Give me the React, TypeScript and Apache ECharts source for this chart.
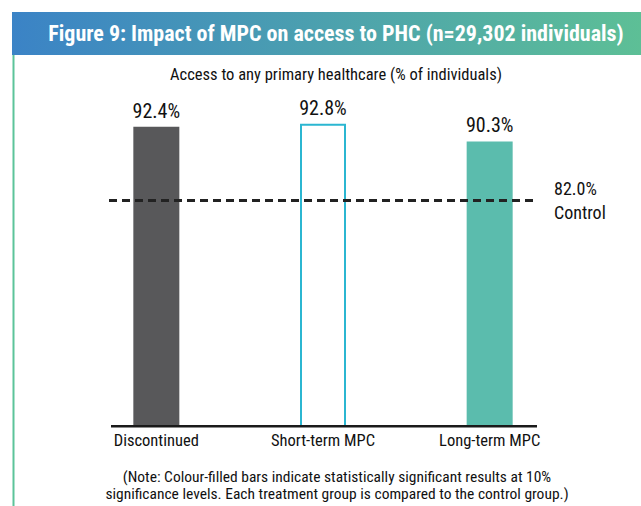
import React, { useEffect, useRef } from "react";
import * as echarts from "echarts";

const categories = ["Discontinued", "Short-term MPC", "Long-term MPC"];
const accessValues = [92.4, 92.8, 90.3];
const filled = [true, false, true];
const barColors = ["#58585a", "#2bb6d1", "#5bbcad"];
const controlValue = 82.0;
const controlLabel = "Control";
const titleText = "Figure 9: Impact of MPC on access to PHC (n=29,302 individuals)";
const subtitleText = "Access to any primary healthcare (% of individuals)";
const noteLines = [
  "(Note: Colour-filled bars indicate statistically significant results at 10%",
  "significance levels. Each treatment group is compared to the control group.)",
];

const FONT = '"Roboto Condensed", "Liberation Sans Narrow", "DejaVu Sans Condensed", sans-serif';

export default function App() {
  const ref = useRef<HTMLDivElement>(null);
  useEffect(() => {
    document.body.style.margin = "0";
    const chart = echarts.init(ref.current!, null, { renderer: "svg" });
    const yMin = 50;
    chart.setOption({
      animation: false,
      backgroundColor: "#ffffff",
      textStyle: { fontFamily: FONT },
      grid: { left: 73, right: 68, top: 73, bottom: 80 },
      xAxis: {
        type: "category",
        data: categories,
        axisLine: { show: false },
        axisTick: { show: false },
        axisLabel: { color: "#111", fontSize: 16.5, fontFamily: FONT, margin: 6 },
      },
      yAxis: { type: "value", min: yMin, max: 100, show: false, splitLine: { show: false } },
      series: [
        {
          type: "bar",
          barWidth: 46,
          data: accessValues.map((v, i) => ({
            value: v,
            itemStyle: filled[i]
              ? { color: barColors[i] }
              : { color: "#ffffff", borderColor: barColors[i], borderWidth: 2 },
          })),
          label: {
            show: true,
            position: "top",
            distance: 6,
            color: "#111",
            fontSize: 20,
            fontFamily: FONT,
            formatter: (p: any) => p.value.toFixed(1) + "%",
          },
          markLine: {
            silent: true,
            symbol: "none",
            animation: false,
            data: [
              [
                {
                  xAxis: 0,
                  yAxis: controlValue,
                  x: 109,
                  lineStyle: { color: "#222", type: [8, 5], width: 3 },
                  label: {
                    show: true,
                    position: "end",
                    distance: 16,
                    color: "#111",
                    fontSize: 18,
                    fontFamily: FONT,
                    lineHeight: 24,
                    align: "left",
                    padding: [24, 0, 0, 0],
                    formatter: controlValue.toFixed(1) + "%\n" + controlLabel,
                  },
                },
                { xAxis: 2, yAxis: controlValue, x: 538 },
              ],
            ],
          },
        },
      ],
      graphic: {
        elements: [
          {
            type: "rect",
            shape: { x: 12, y: 12, width: 629, height: 43 },
            style: {
              fill: new echarts.graphic.LinearGradient(0, 0, 1, 0, [
                { offset: 0, color: "#3b83c6" },
                { offset: 1, color: "#5dbf96" },
              ]),
            },
          },
          {
            type: "rect",
            shape: { x: 12.5, y: 55, width: 2, height: 451 },
            style: { fill: "#5cc49a" },
          },
          {
            type: "rect",
            z: 100,
            shape: { x: 111, y: 425, width: 426, height: 2.5 },
            style: { fill: "#1a1a1a" },
          },
          {
            type: "text",
            x: 336,
            y: 33,
            style: {
              text: titleText,
              fill: "#ffffff",
              font: `bold 22px ${FONT}`,
              textAlign: "center",
              textVerticalAlign: "middle",
            },
          },
          {
            type: "text",
            x: 336,
            y: 74,
            style: {
              text: subtitleText,
              fill: "#111",
              font: `16.5px ${FONT}`,
              textAlign: "center",
              textVerticalAlign: "middle",
            },
          },
          {
            type: "text",
            x: 337,
            y: 485,
            style: {
              text: noteLines.join("\n"),
              fill: "#111",
              font: `15.5px ${FONT}`,
              lineHeight: 17,
              textAlign: "center",
              textVerticalAlign: "middle",
            },
          },
        ],
      },
    });
    return () => chart.dispose();
  }, []);
  return <div ref={ref} style={{ width: 641, height: 506 }} />;
}
